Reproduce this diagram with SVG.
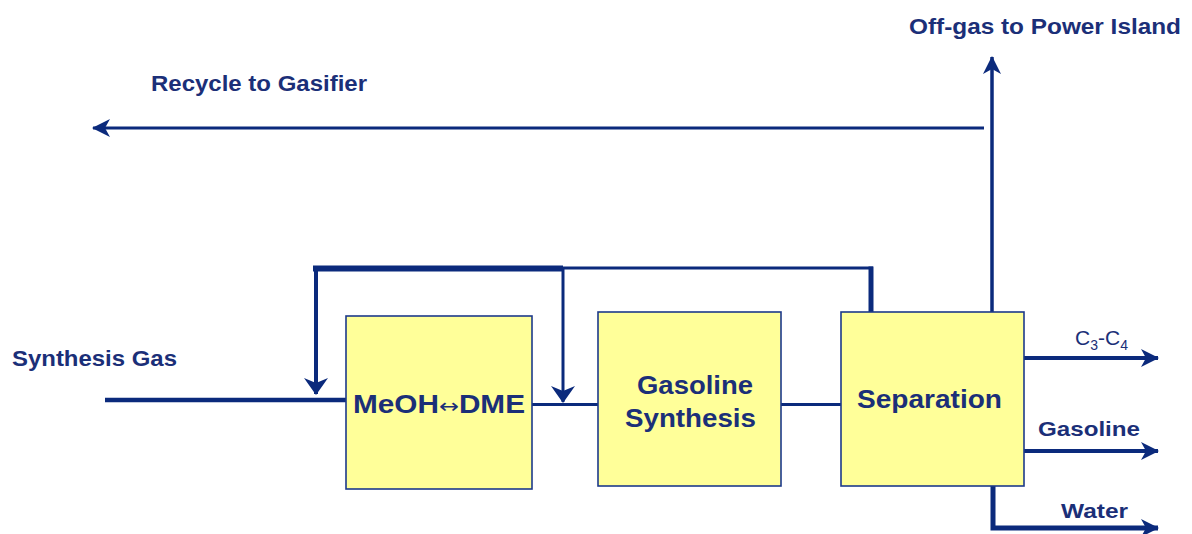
<svg xmlns="http://www.w3.org/2000/svg" width="1192" height="534" viewBox="0 0 1192 534">
<defs>
<style>
.ln{fill:none;stroke:#0b2a7c;stroke-linecap:butt;stroke-linejoin:miter}
.box{fill:#ffff99;stroke:#1d3a8a;stroke-width:1.6}
.t{font-family:"Liberation Sans",Arial,sans-serif;font-weight:bold;fill:#1b2f78}
.b{font-size:25px}
.o{font-size:22px}
.r{font-family:"Liberation Sans",Arial,sans-serif;fill:#1b2f78;font-size:21px}
</style>
<marker id="ah" viewBox="0 0 18 18" refX="17" refY="9" markerWidth="18" markerHeight="18" markerUnits="userSpaceOnUse" orient="auto">
<path d="M0,0 L18,9 L0,18 L5,9 z" fill="#0b2a7c"/>
</marker>
<marker id="ahd" viewBox="0 0 17 24" refX="16" refY="12" markerWidth="17" markerHeight="24" markerUnits="userSpaceOnUse" orient="auto">
<path d="M0,0 L17,12 L0,24 L5,12 z" fill="#0b2a7c"/>
</marker>
</defs>
<rect width="1192" height="534" fill="#ffffff"/>
<g id="connectors">
<line class="ln" x1="105" y1="400" x2="346" y2="400" stroke-width="4.5"/>
<polyline class="ln" points="316,269 316,394" stroke-width="4" marker-end="url(#ahd)"/>
<line class="ln" x1="313" y1="268.5" x2="563" y2="268.5" stroke-width="6"/>
<line class="ln" x1="561" y1="268" x2="873" y2="268" stroke-width="3"/>
<line class="ln" x1="871" y1="266.5" x2="871" y2="313" stroke-width="5"/>
<polyline class="ln" points="563,268 563,402" stroke-width="3" marker-end="url(#ahd)"/>
<line class="ln" x1="532" y1="404.5" x2="598" y2="404.5" stroke-width="3"/>
<line class="ln" x1="781" y1="404.5" x2="841" y2="404.5" stroke-width="3"/>
<polyline class="ln" points="992,312 992,57" stroke-width="3.5" marker-end="url(#ah)"/>
<polyline class="ln" points="984,128 93,128" stroke-width="3" marker-end="url(#ah)"/>
<polyline class="ln" points="1024,358 1158,358" stroke-width="4" marker-end="url(#ah)"/>
<polyline class="ln" points="1024,451 1158,451" stroke-width="4" marker-end="url(#ah)"/>
<polyline class="ln" points="993,486 993,528 1158,528" stroke-width="5" marker-end="url(#ah)"/>
</g>
<g id="meoh-dme">
<rect class="box" x="346" y="316" width="186" height="173"/>
<text class="t b" x="353" y="413" textLength="172" lengthAdjust="spacingAndGlyphs">MeOH<tspan font-family="'DejaVu Sans',sans-serif" font-weight="normal" font-size="20">↔</tspan>DME</text>
</g>
<g id="gasoline-synthesis">
<rect class="box" x="598" y="312" width="183" height="174"/>
<text class="t b" x="637" y="394" textLength="116" lengthAdjust="spacingAndGlyphs">Gasoline</text>
<text class="t b" x="625" y="427" textLength="131" lengthAdjust="spacingAndGlyphs">Synthesis</text>
</g>
<g id="separation">
<rect class="box" x="841" y="312" width="183" height="174"/>
<text class="t b" x="857" y="408" textLength="145" lengthAdjust="spacingAndGlyphs">Separation</text>
</g>
<g id="labels">
<text class="t o" x="909" y="34" textLength="272" lengthAdjust="spacingAndGlyphs">Off-gas to Power Island</text>
<text class="t o" x="151" y="91" textLength="216" lengthAdjust="spacingAndGlyphs">Recycle to Gasifier</text>
<text class="t o" x="12" y="366" textLength="165" lengthAdjust="spacingAndGlyphs">Synthesis Gas</text>
<text class="r" x="1075" y="345">C<tspan font-size="14" dy="5">3</tspan><tspan dy="-5">-C</tspan><tspan font-size="14" dy="5">4</tspan></text>
<text class="t" font-size="21" x="1038" y="436" textLength="102" lengthAdjust="spacingAndGlyphs">Gasoline</text>
<text class="t" font-size="21" x="1061" y="518" textLength="67" lengthAdjust="spacingAndGlyphs">Water</text>
</g>
</svg>
